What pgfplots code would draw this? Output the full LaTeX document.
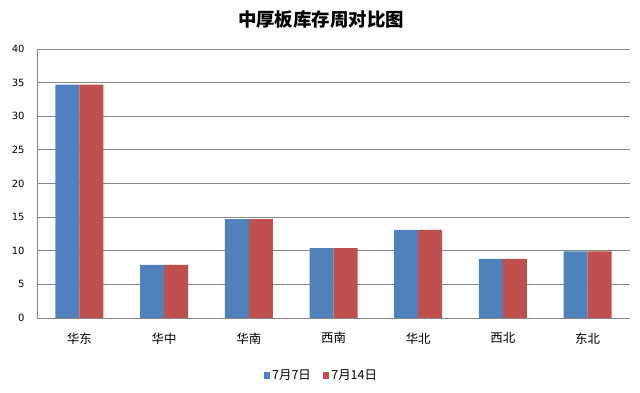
\documentclass[border=0pt]{standalone}
\usepackage{fontspec}
\setmainfont{DejaVu Sans}
\newfontfamily\cjk{Noto Sans CJK SC}
\usepackage{pgfplots}
\pgfplotsset{compat=1.18}
\definecolor{cblue}{HTML}{4F81BD}
\definecolor{cred}{HTML}{C0504D}
\definecolor{cgrid}{HTML}{868686}
\begin{document}
\begin{tikzpicture}
\useasboundingbox (0,0) rectangle (640bp,393bp);
\node[font=\cjk\bfseries\fontsize{18.5}{20}\selectfont] at (321bp,373bp) {中厚板库存周对比图};
\begin{axis}[
  at={(37bp,75bp)}, anchor=south west,
  scale only axis, width=593bp, height=269bp,
  ymin=0, ymax=40, ytick={0,5,...,40},
  xmin=-0.5, xmax=6.5, xtick={0,...,6},
  xticklabels={华东,华中,华南,西南,华北,西北,东北},
  x tick label style={font=\cjk\fontsize{12.5}{14}\selectfont, yshift=-11bp},
  y tick label style={font=\fontsize{10}{12}\selectfont, xshift=-9bp},
  /pgf/number format/assume math mode=true,
  major tick length=0pt,
  axis x line*=bottom, axis y line*=left,
  axis line style={cgrid, line width=0.8pt, -},
  ymajorgrids, grid style={cgrid, line width=0.8pt},
  ybar=0pt, bar width=24bp,
  legend style={at={(0.4795,-0.212)}, anchor=center, draw=none,
    legend columns=2, font=\cjk\fontsize{12.5}{14}\selectfont,
    /tikz/every even column/.append style={column sep=10bp}},
  legend image code/.code={\fill[#1] (0bp,-3.5bp) rectangle (6.5bp,3.5bp);},
]
\addplot[fill=cblue, draw=none] coordinates {(0,34.7) (1,7.9) (2,14.7) (3,10.4) (4,13.1) (5,8.8) (6,9.9)};
\addplot[fill=cred, draw=none] coordinates {(0,34.7) (1,7.9) (2,14.7) (3,10.4) (4,13.1) (5,8.8) (6,9.9)};
\legend{7月7日,7月14日}
\end{axis}
\end{tikzpicture}
\end{document}
